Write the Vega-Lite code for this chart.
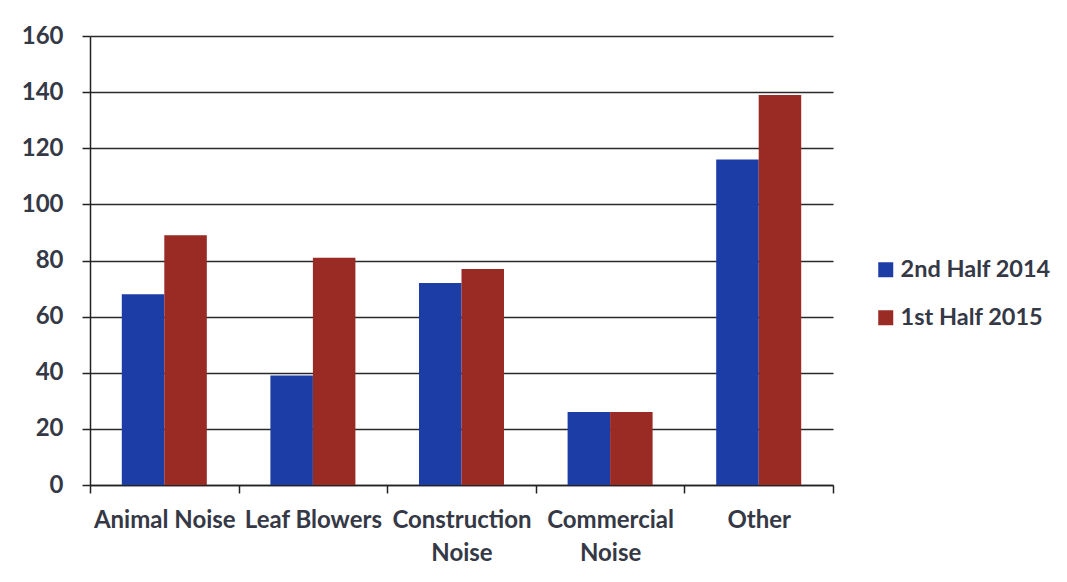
{
  "$schema": "https://vega.github.io/schema/vega-lite/v6.json",
  "autosize": {"type": "none"},
  "padding": {"left": 90, "top": 36, "right": 234, "bottom": 97},
  "width": 743,
  "height": 449,
  "background": "white",
  "data": {
    "values": [
      {"category": "Animal Noise", "period": "2nd Half 2014", "count": 68},
      {"category": "Animal Noise", "period": "1st Half 2015", "count": 89},
      {"category": "Leaf Blowers", "period": "2nd Half 2014", "count": 39},
      {"category": "Leaf Blowers", "period": "1st Half 2015", "count": 81},
      {"category": "Construction Noise", "period": "2nd Half 2014", "count": 72},
      {"category": "Construction Noise", "period": "1st Half 2015", "count": 77},
      {"category": "Commercial Noise", "period": "2nd Half 2014", "count": 26},
      {"category": "Commercial Noise", "period": "1st Half 2015", "count": 26},
      {"category": "Other", "period": "2nd Half 2014", "count": 116},
      {"category": "Other", "period": "1st Half 2015", "count": 139}
    ]
  },
  "mark": {"type": "bar"},
  "encoding": {
    "x": {
      "field": "category",
      "type": "nominal",
      "sort": null,
      "scale": {"paddingInner": 0, "paddingOuter": 0},
      "axis": {
        "title": null,
        "labelAngle": 0,
        "tickBand": "extent",
        "tickSize": 8,
        "tickColor": "#222222",
        "tickWidth": 1.5,
        "domainColor": "#222222",
        "domainWidth": 1.5,
        "labelFont": "Lato",
        "labelFontWeight": "bold",
        "labelFontSize": 24,
        "labelColor": "#353845",
        "labelPadding": 15,
        "labelLineHeight": 33,
        "labelLimit": 300,
        "labelExpr": "indexof(['Construction Noise', 'Commercial Noise'], datum.label) >= 0 ? split(datum.label, ' ') : datum.label"
      }
    },
    "xOffset": {
      "field": "period",
      "type": "nominal",
      "sort": ["2nd Half 2014", "1st Half 2015"],
      "scale": {"paddingInner": 0, "paddingOuter": 0.748}
    },
    "y": {
      "field": "count",
      "type": "quantitative",
      "scale": {"domain": [0, 160]},
      "axis": {
        "title": null,
        "values": [0, 20, 40, 60, 80, 100, 120, 140, 160],
        "grid": true,
        "gridColor": "#2a2a2a",
        "gridWidth": 1.5,
        "tickSize": 8,
        "tickColor": "#222222",
        "tickWidth": 1.5,
        "domainColor": "#222222",
        "domainWidth": 1.5,
        "labelFont": "Lato",
        "labelFontWeight": "bold",
        "labelFontSize": 24,
        "labelColor": "#353845",
        "labelPadding": 19
      }
    },
    "color": {
      "field": "period",
      "type": "nominal",
      "sort": ["2nd Half 2014", "1st Half 2015"],
      "scale": {"domain": ["2nd Half 2014", "1st Half 2015"], "range": ["#1c3da6", "#992a24"]},
      "legend": {
        "title": null,
        "orient": "none",
        "legendX": 784,
        "legendY": 222,
        "symbolType": "square",
        "symbolSize": 225,
        "symbolStrokeWidth": 0,
        "labelFont": "Lato",
        "labelFontWeight": "bold",
        "labelFontSize": 23.5,
        "labelColor": "#353845",
        "labelOffset": 3,
        "rowPadding": 23,
        "labelLimit": 300
      }
    }
  },
  "config": {
    "view": {"stroke": null}
  }
}
